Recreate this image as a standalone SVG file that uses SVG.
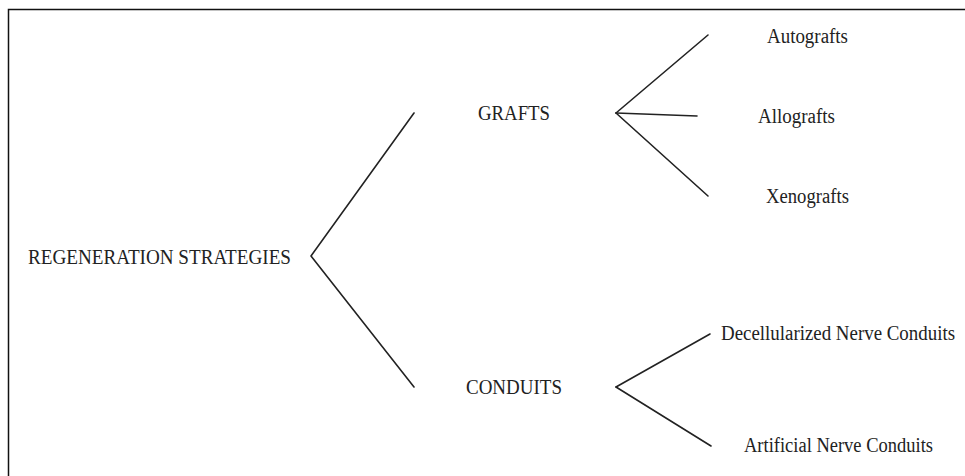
<svg xmlns="http://www.w3.org/2000/svg" width="965" height="476" viewBox="0 0 965 476">
<style>
  .t { font-family: "Liberation Serif", "Times New Roman", serif; font-size: 20.5px; fill: #222; }
  .c { stroke: #222; stroke-width: 1.6; fill: none; stroke-linecap: round; stroke-linejoin: round; }
  .frame { stroke: #111; stroke-width: 1.5; fill: none; }
</style>
<rect x="0" y="0" width="965" height="476" fill="#ffffff"/>
<g id="frame">
  <polyline class="frame" points="8.5,476 8.5,9.5 965,9.5"/>
</g>
<g id="connectors">
  <polyline class="c" points="414,113 311,256 414,387"/>
  <line class="c" x1="616" y1="113" x2="708" y2="35"/>
  <line class="c" x1="616" y1="113" x2="697" y2="116"/>
  <line class="c" x1="616" y1="113" x2="708" y2="196"/>
  <line class="c" x1="616" y1="387" x2="710" y2="334"/>
  <line class="c" x1="616" y1="387" x2="711" y2="446"/>
</g>
<g id="node-root">
  <text class="t" x="28" y="264" textLength="263" lengthAdjust="spacingAndGlyphs">REGENERATION STRATEGIES</text>
</g>
<g id="node-grafts">
  <text class="t" x="478" y="120" textLength="72" lengthAdjust="spacingAndGlyphs">GRAFTS</text>
</g>
<g id="node-conduits">
  <text class="t" x="466" y="394" textLength="96" lengthAdjust="spacingAndGlyphs">CONDUITS</text>
</g>
<g id="node-autografts">
  <text class="t" x="767" y="43" textLength="81" lengthAdjust="spacingAndGlyphs">Autografts</text>
</g>
<g id="node-allografts">
  <text class="t" x="758" y="123" textLength="77" lengthAdjust="spacingAndGlyphs">Allografts</text>
</g>
<g id="node-xenografts">
  <text class="t" x="766" y="203" textLength="83" lengthAdjust="spacingAndGlyphs">Xenografts</text>
</g>
<g id="node-decellularized">
  <text class="t" x="721" y="340" textLength="234" lengthAdjust="spacingAndGlyphs">Decellularized Nerve Conduits</text>
</g>
<g id="node-artificial">
  <text class="t" x="744" y="452" textLength="189" lengthAdjust="spacingAndGlyphs">Artificial Nerve Conduits</text>
</g>
</svg>
